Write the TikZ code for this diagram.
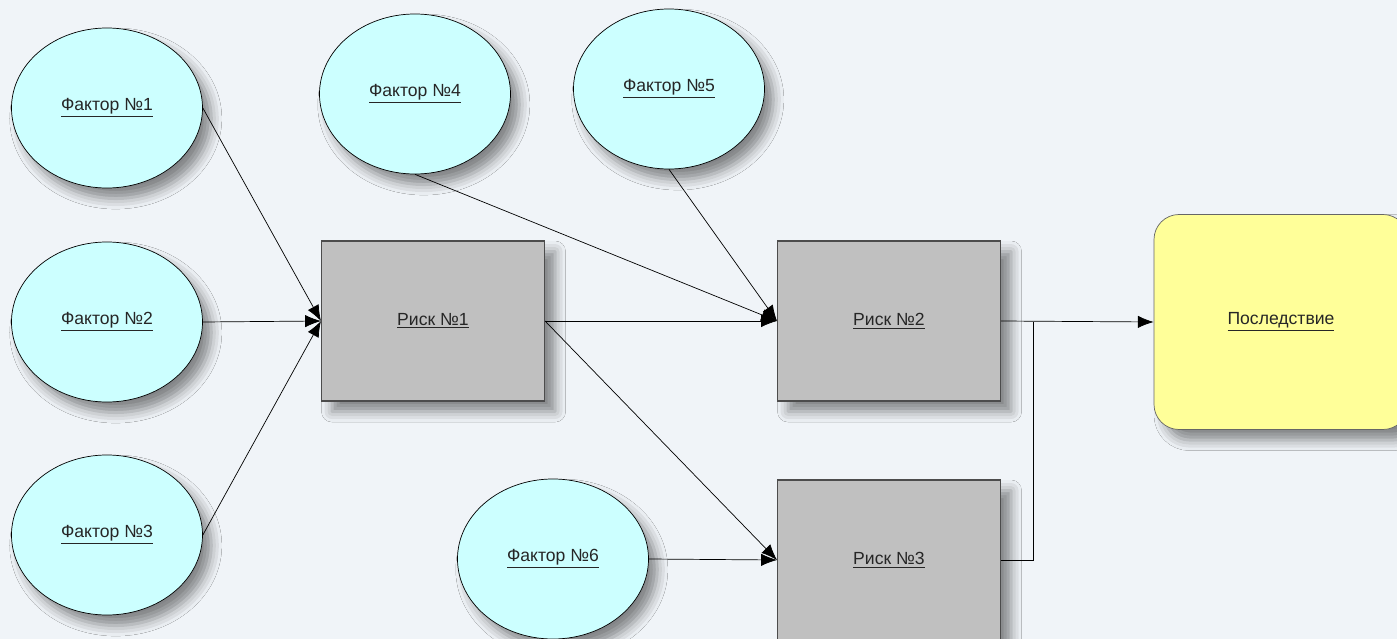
\documentclass[tikz,border=0pt]{standalone}
\usepackage{fontspec}
\setmainfont{Liberation Sans}
\usetikzlibrary{arrows.meta,shapes.geometric,shadows.blur}
\definecolor{bgcol}{RGB}{240,244,248}
\definecolor{factcol}{RGB}{204,255,255}
\definecolor{riskcol}{RGB}{192,192,192}
\definecolor{conscol}{RGB}{255,255,153}
\tikzstyle{factor}=[ellipse,draw=black,fill=factcol,minimum width=3.82cm,minimum height=3.2cm,inner sep=0pt,
  blur shadow={shadow xshift=5pt,shadow yshift=-6pt,shadow blur radius=6pt,shadow opacity=45}]
\tikzstyle{risk}=[rectangle,draw=black!70,semithick,fill=riskcol,minimum width=4.46cm,minimum height=3.2cm,inner sep=0pt,
  blur shadow={shadow xshift=6pt,shadow yshift=-6pt,shadow blur radius=6pt,shadow opacity=45}]
\tikzstyle{result}=[rectangle,rounded corners=0.5cm,draw=black!60,fill=conscol,minimum width=5.08cm,minimum height=4.3cm,inner sep=0pt,
  blur shadow={shadow xshift=6pt,shadow yshift=-6pt,shadow blur radius=6pt,shadow opacity=45}]
\tikzstyle{arr}=[-{Latex[length=9pt,width=7pt]},black]

\begin{document}
\begin{tikzpicture}[x=0.2mm,y=-0.2mm,font=\fontsize{10}{12}\selectfont,text=black!85]
\useasboundingbox (0,0) rectangle (1397,639);
\fill[bgcol] (0,0) rectangle (1397,639);

\node[factor] (f1) at (107,108) {\underline{Фактор №1}};
\node[factor] (f2) at (107,322) {\underline{Фактор №2}};
\node[factor] (f3) at (107,535) {\underline{Фактор №3}};
\node[factor] (f4) at (415,94) {\underline{Фактор №4}};
\node[factor] (f5) at (669,89) {\underline{Фактор №5}};
\node[factor] (f6) at (553,559) {\underline{Фактор №6}};

\node[risk] (r1) at (433,321) {\underline{Риск №1}};
\node[risk] (r2) at (889,321) {\underline{Риск №2}};
\node[risk] (r3) at (889,560) {\underline{Риск №3}};

\node[result] (cons) at (1281,322) {\underline{Последствие}};

\coordinate (j) at (1033,322);

\draw[arr] (f1.east) -- (r1.west);
\draw[arr] (f2.east) -- (r1.west);
\draw[arr] (f3.east) -- (r1.west);
\draw[arr] (f4.south) -- (r2.west);
\draw[arr] (f5.south) -- (r2.west);
\draw[arr] (r1.east) -- (r2.west);
\draw[arr] (r1.east) -- (r3.west);
\draw[arr] (f6.east) -- (r3.west);
\draw[arr] (r2.east) -- (cons.west);
\draw (r3.east) -| (j);

\end{tikzpicture}
\end{document}
